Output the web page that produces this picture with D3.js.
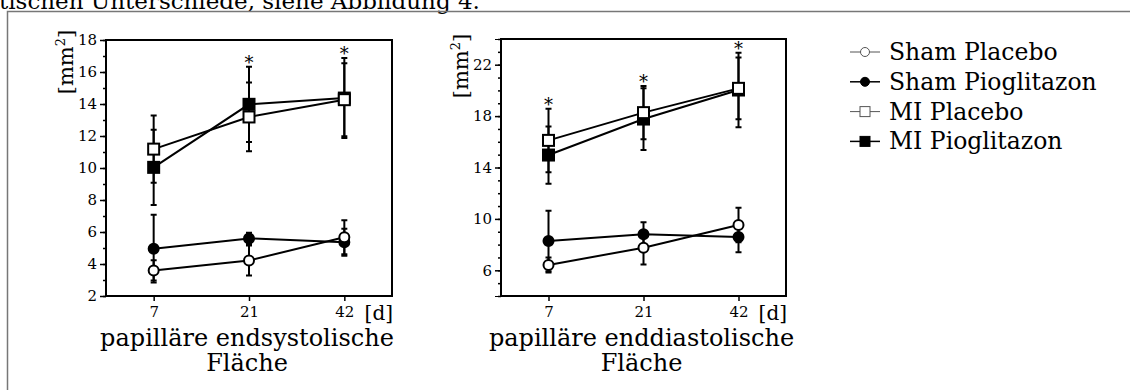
<!DOCTYPE html>
<html>
<head>
<meta charset="utf-8">
<script src="https://cdn.jsdelivr.net/npm/d3@7"></script>
<style>
  body { margin: 0; background: #fff; }
  svg { display: block; font-family: "DejaVu Serif", serif; }
  .axis path, .axis line { stroke: #000; }
  .axis text { font-family: "DejaVu Serif", serif; fill: #000; }
</style>
</head>
<body>
<svg id="chart" width="1130" height="390"></svg>
<script>
// categories (days)
var days = ["7", "21", "42"];
var seriesNames = ["Sham Placebo", "Sham Pioglitazon", "MI Placebo", "MI Pioglitazon"];

// papillaere endsystolische Flaeche [mm2]: mean and SD
var esShamPlacebo = [3.6, 4.22, 5.67];
var esShamPlaceboSd = [0.63, 0.94, 1.06];
var esShamPio = [4.96, 5.6, 5.36];
var esShamPioSd = [2.12, 0.35, 0.85];
var esMiPlacebo = [11.18, 13.19, 14.27];
var esMiPlaceboSd = [2.1, 2.15, 2.28];
var esMiPio = [10.04, 13.98, 14.37];
var esMiPioSd = [2.35, 2.35, 2.5];
var esSignif = [false, true, true];
var esTicks = [2, 4, 6, 8, 10, 12, 14, 16, 18];

// papillaere enddiastolische Flaeche [mm2]
var edShamPlacebo = [6.41, 7.76, 9.53];
var edShamPlaceboSd = [0.59, 1.3, 1.34];
var edShamPio = [8.28, 8.8, 8.59];
var edShamPioSd = [2.36, 0.93, 1.19];
var edMiPlacebo = [16.11, 18.27, 20.16];
var edMiPlaceboSd = [2.47, 2.07, 2.41];
var edMiPio = [14.97, 17.77, 20.03];
var edMiPioSd = [2.23, 2.4, 2.9];
var edSignif = [true, true, true];
var edTicks = [6, 10, 14, 18, 22];

// marker style per series: shape + filled
var styles = [
  { shape: "circle", filled: false },
  { shape: "circle", filled: true },
  { shape: "square", filled: false },
  { shape: "square", filled: true }
];

var svg = d3.select("#chart");

// page fragment: cut-off text line and the surrounding box
svg.append("text")
  .attr("x", -1).attr("y", 9)
  .style("font-size", "23px")
  .text("tischen Unterschiede, siehe Abbildung 4.");
svg.append("path")
  .attr("d", "M7.5,390V11.5H1130")
  .attr("fill", "none")
  .attr("stroke", "#777")
  .attr("stroke-width", 1.5);

function panel (cfg) {
  var x = d3.scalePoint().domain(days).range([cfg.left, cfg.right]).padding(0.5);
  var y = d3.scaleLinear().domain(cfg.domain).range([cfg.bottom, cfg.top]);
  var g = svg.append("g");

  // minor ticks
  g.append("g").attr("class", "axis")
    .attr("transform", "translate(" + cfg.left + ",0)")
    .call(d3.axisLeft(y).tickValues(d3.range(cfg.domain[0], cfg.domain[1] + 1)).tickSize(3).tickFormat(""))
    .call(function (a) { a.selectAll("line").attr("stroke-width", 1.5); });

  // major ticks
  g.append("g").attr("class", "axis")
    .attr("transform", "translate(" + cfg.left + ",0)")
    .call(d3.axisLeft(y).tickValues(cfg.ticks).tickSize(6).tickPadding(3))
    .call(function (a) {
      a.selectAll("line").attr("stroke-width", 1.5);
      a.selectAll("text").style("font-size", "15px");
    });

  g.append("g").attr("class", "axis")
    .attr("transform", "translate(0," + cfg.bottom + ")")
    .call(d3.axisBottom(x).tickSize(5).tickPadding(5))
    .call(function (a) {
      a.select(".domain").remove();
      a.selectAll("line").attr("stroke-width", 1.5);
      a.selectAll("text").style("font-size", "15px");
    });

  // frame
  g.append("rect")
    .attr("x", cfg.left).attr("y", cfg.top)
    .attr("width", cfg.right - cfg.left).attr("height", cfg.bottom - cfg.top)
    .attr("fill", "none").attr("stroke", "#000").attr("stroke-width", 2);

  var series = cfg.means.map(function (m, i) {
    return {
      style: styles[i],
      pts: days.map(function (d, j) { return { day: d, v: m[j], sd: cfg.sds[i][j] }; })
    };
  });
  // filled markers first, open ones on top
  var order = [1, 0, 3, 2].map(function (i) { return series[i]; });

  var line = d3.line().x(function (p) { return x(p.day); }).y(function (p) { return y(p.v); });
  g.selectAll(".ln").data(order).enter().append("path")
    .attr("d", function (s) { return line(s.pts); })
    .attr("fill", "none").attr("stroke", "#000").attr("stroke-width", 2);

  var err = g.selectAll(".err").data(order).enter().append("g");
  err.selectAll("path").data(function (s) { return s.pts; }).enter().append("path")
    .attr("d", function (p) {
      var cx = x(p.day), y0 = y(p.v - p.sd), y1 = y(p.v + p.sd);
      return "M" + cx + "," + y0 + "V" + y1 +
        "M" + (cx - 3) + "," + y0 + "h6M" + (cx - 3) + "," + y1 + "h6";
    })
    .attr("fill", "none").attr("stroke", "#000").attr("stroke-width", 2);

  order.forEach(function (s) {
    s.pts.forEach(function (p) {
      drawMarker(g, s.style, x(p.day), y(p.v), 6, 2);
    });
  });

  // significance asterisks above the MI bars
  days.forEach(function (d, j) {
    if (!cfg.signif[j]) return;
    var top = d3.max(cfg.means.slice(2), function (m, i) { return m[j] + cfg.sds[i + 2][j]; });
    g.append("text")
      .attr("x", x(d)).attr("y", y(top) + 2)
      .attr("text-anchor", "middle")
      .style("font-size", "18px")
      .text("*");
  });

  // unit labels
  var yl = g.append("text")
    .attr("transform", "translate(" + cfg.ylabX + "," + cfg.ylabY + ") rotate(-90)")
    .attr("text-anchor", "middle")
    .style("font-size", "21px");
  yl.append("tspan").text("[mm");
  yl.append("tspan").attr("dy", -8).style("font-size", "13px").text("2");
  yl.append("tspan").attr("dy", 8).text("]");

  g.append("text")
    .attr("x", cfg.right + 1).attr("y", cfg.bottom + 24)
    .attr("text-anchor", "end")
    .style("font-size", "20px")
    .text("[d]");

  var mid = (cfg.left + cfg.right) / 2;
  g.selectAll(".ttl").data(cfg.title).enter().append("text")
    .attr("x", mid - 2)
    .attr("y", function (t, i) { return 346 + i * 25; })
    .attr("text-anchor", "middle")
    .style("font-size", "24px")
    .text(function (t) { return t; });
}

function drawMarker (g, st, cx, cy, r, sw) {
  var el;
  if (st.shape === "circle") {
    el = g.append("circle").attr("cx", cx).attr("cy", cy).attr("r", r - sw / 2);
  } else {
    var h = r - sw / 2 + 0.5;
    el = g.append("rect").attr("x", cx - h).attr("y", cy - h).attr("width", 2 * h).attr("height", 2 * h);
  }
  el.attr("fill", st.filled ? "#000" : "#fff").attr("stroke", "#000").attr("stroke-width", sw);
  return el;
}

panel({
  left: 106, right: 392, top: 40, bottom: 296,
  domain: [2, 18], ticks: esTicks,
  means: [esShamPlacebo, esShamPio, esMiPlacebo, esMiPio],
  sds: [esShamPlaceboSd, esShamPioSd, esMiPlaceboSd, esMiPioSd],
  signif: esSignif,
  ylabX: 73, ylabY: 62,
  title: ["papilläre endsystolische", "Fläche"]
});

panel({
  left: 501, right: 786, top: 39, bottom: 296,
  domain: [4, 24], ticks: edTicks,
  means: [edShamPlacebo, edShamPio, edMiPlacebo, edMiPio],
  sds: [edShamPlaceboSd, edShamPioSd, edMiPlaceboSd, edMiPioSd],
  signif: edSignif,
  ylabX: 468, ylabY: 66,
  title: ["papilläre enddiastolische", "Fläche"]
});

// legend
var legend = svg.append("g").selectAll("g").data(seriesNames).enter().append("g")
  .attr("transform", function (d, i) { return "translate(0," + (52 + i * 29.8) + ")"; });
legend.append("line")
  .attr("x1", 850).attr("x2", 880)
  .attr("stroke", function (d, i) { return styles[i].filled ? "#000" : "#555"; })
  .attr("stroke-width", function (d, i) { return styles[i].filled ? 1.5 : 1; });
legend.each(function (d, i) {
  var st = styles[i];
  drawMarker(d3.select(this), st, 865, 0, 5, 1)
    .attr("stroke", st.filled ? "#000" : "#555");
});
legend.append("text")
  .attr("x", 889).attr("y", 8)
  .style("font-size", "23.5px")
  .text(function (d) { return d; });
</script>
</body>
</html>
